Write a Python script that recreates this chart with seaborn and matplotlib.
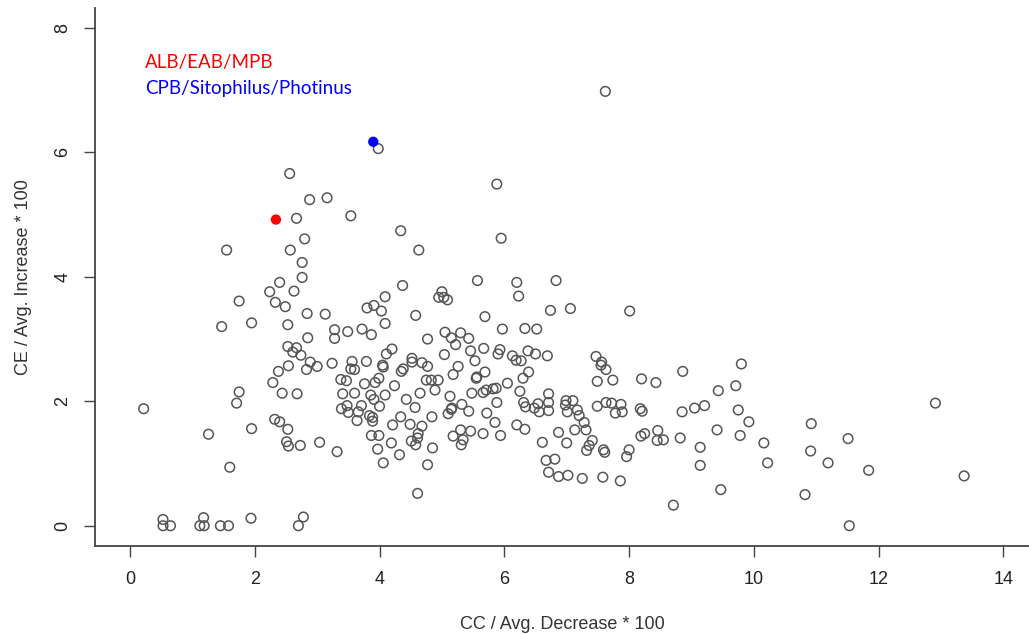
import matplotlib
matplotlib.use('Agg')
import matplotlib.pyplot as plt
import seaborn as sns
import pandas as pd

# CC / Avg. Decrease * 100 (x) and CE / Avg. Increase * 100 (y)
# left cluster, upper part
cc_left_top = [2.56, 2.88, 3.16, 2.67, 2.80, 1.55, 2.57, 2.76, 2.76, 2.40, 2.24, 2.63,
               1.75, 2.33, 2.49, 2.84, 3.13, 1.47, 1.95, 2.53, 3.28, 2.85, 3.28]
ce_left_top = [5.66, 5.24, 5.27, 4.94, 4.61, 4.43, 4.43, 4.23, 3.99, 3.91, 3.76, 3.77,
               3.61, 3.59, 3.52, 3.41, 3.40, 3.20, 3.26, 3.23, 3.15, 3.02, 3.01]

# left cluster, lower part
cc_left_low = [2.53, 2.67, 2.61, 2.74, 2.89, 3.00, 2.83, 3.24, 2.54, 2.38, 2.29, 2.44, 2.68,
               1.75, 1.71, 0.22, 2.32, 2.40, 2.53, 1.95, 1.26, 2.51, 2.54, 2.73, 3.04, 3.32,
               1.60, 0.53, 0.53, 0.65, 1.18, 1.12, 1.19, 1.45, 1.58, 1.94, 2.78, 2.70]
ce_left_low = [2.88, 2.86, 2.79, 2.74, 2.63, 2.56, 2.51, 2.61, 2.57, 2.48, 2.30, 2.13, 2.12,
               2.15, 1.97, 1.88, 1.71, 1.67, 1.55, 1.56, 1.47, 1.35, 1.28, 1.29, 1.34, 1.19,
               0.94, 0.10, 0.00, 0.00, 0.13, 0.00, 0.00, 0.00, 0.00, 0.12, 0.14, 0.00]

# middle, upper part
cc_mid_top = [3.98, 5.88, 3.54, 4.34, 5.95, 4.63, 5.57, 6.20, 6.83, 4.37, 6.23, 5.00,
              4.95, 5.03, 5.09, 4.09, 3.80, 3.91, 4.03, 4.09, 4.58, 5.69, 6.74, 7.06,
              3.49, 3.72, 3.87, 5.05, 5.30, 5.97, 6.33, 6.52]
ce_mid_top = [6.06, 5.49, 4.98, 4.74, 4.62, 4.43, 3.94, 3.91, 3.94, 3.86, 3.69, 3.76,
              3.67, 3.67, 3.63, 3.68, 3.50, 3.54, 3.45, 3.25, 3.38, 3.36, 3.46, 3.49,
              3.12, 3.16, 3.07, 3.11, 3.10, 3.16, 3.17, 3.16]

# middle, dense part
cc_mid_a = [4.77, 5.15, 5.43, 5.22, 4.20, 4.11, 3.56, 3.54, 3.60, 3.79, 4.05, 4.06,
            4.52, 4.52, 4.68, 4.77, 4.35, 4.38, 5.04, 5.46, 5.67, 5.53, 5.93, 5.90,
            6.13, 6.19, 6.27, 6.38, 6.50, 6.69, 5.26, 5.18, 5.69, 5.55, 5.56, 6.39,
            6.30, 3.38, 3.47, 3.76, 3.93, 3.99, 4.24, 4.75, 4.83, 4.94, 4.89, 4.65,
            4.43, 4.57, 3.41, 3.60, 3.86, 4.09, 3.91, 3.48, 3.39, 3.50, 3.71, 3.66]
ce_mid_a = [3.00, 3.02, 3.01, 2.91, 2.84, 2.76, 2.64, 2.52, 2.51, 2.64, 2.58, 2.55,
            2.69, 2.63, 2.62, 2.56, 2.48, 2.52, 2.75, 2.81, 2.85, 2.65, 2.83, 2.76,
            2.73, 2.66, 2.65, 2.81, 2.76, 2.73, 2.56, 2.43, 2.47, 2.37, 2.39, 2.47,
            2.37, 2.35, 2.33, 2.28, 2.30, 2.37, 2.25, 2.34, 2.34, 2.34, 2.18, 2.13,
            2.03, 1.90, 2.12, 2.13, 2.10, 2.10, 2.03, 1.93, 1.88, 1.82, 1.93, 1.83]

cc_mid_b = [4.00, 3.64, 3.84, 3.89, 3.89, 4.34, 4.21, 4.49, 4.68, 4.84, 5.13, 5.48,
            5.32, 5.43, 5.16, 5.15, 5.10, 5.66, 5.71, 5.82, 5.87, 6.05, 6.25, 5.88,
            5.72, 5.85, 6.31, 6.34, 6.48, 6.54, 6.56, 6.71, 6.71, 6.71, 6.20, 6.33,
            6.61, 6.87, 6.67, 6.81, 6.71, 6.87, 7.02, 5.30, 5.46, 5.18, 5.34, 5.31,
            5.66, 5.94, 3.87, 3.99, 4.19, 3.97, 4.32, 4.06, 4.51, 4.61, 4.62, 4.58,
            4.85, 4.77, 4.61]
ce_mid_b = [1.92, 1.69, 1.77, 1.74, 1.68, 1.75, 1.62, 1.63, 1.60, 1.75, 2.08, 2.13,
            1.95, 1.84, 1.89, 1.87, 1.80, 2.14, 2.18, 2.20, 2.21, 2.29, 2.16, 1.98,
            1.81, 1.66, 1.98, 1.91, 1.89, 1.96, 1.83, 2.12, 1.98, 1.85, 1.62, 1.55,
            1.34, 1.50, 1.05, 1.07, 0.86, 0.79, 0.81, 1.54, 1.52, 1.44, 1.38, 1.30,
            1.48, 1.45, 1.45, 1.45, 1.33, 1.23, 1.14, 1.01, 1.36, 1.41, 1.48, 1.30,
            1.25, 0.98, 0.52]

# right part
cc_right = [7.62, 8.01, 7.47, 7.56, 7.55, 7.63, 7.49, 7.74, 8.20, 8.43, 8.86, 9.80,
            9.71, 9.43, 6.99, 7.10, 6.98, 7.01, 7.17, 7.20, 7.28, 7.31, 7.13, 7.00,
            7.41, 7.36, 7.32, 7.59, 7.61, 8.00, 7.96, 7.49, 7.63, 7.72, 7.87, 7.89,
            7.78, 8.18, 8.21, 8.19, 8.25, 8.46, 8.45, 8.55, 8.82, 8.85, 9.05, 9.21,
            9.41, 9.75, 9.92, 9.78, 10.16, 9.14, 9.14, 10.22, 9.47, 8.71, 7.25, 7.58,
            7.86, 10.82, 12.91, 10.92, 11.51, 10.91, 11.19, 11.84, 13.37, 11.53]
ce_right = [6.98, 3.45, 2.72, 2.63, 2.58, 2.51, 2.32, 2.34, 2.36, 2.30, 2.48, 2.60,
            2.25, 2.17, 2.01, 2.01, 1.94, 1.83, 1.86, 1.77, 1.66, 1.54, 1.54, 1.33,
            1.37, 1.29, 1.21, 1.22, 1.18, 1.22, 1.11, 1.92, 1.98, 1.97, 1.95, 1.83,
            1.81, 1.88, 1.84, 1.44, 1.48, 1.53, 1.37, 1.38, 1.41, 1.83, 1.89, 1.93,
            1.54, 1.86, 1.67, 1.45, 1.33, 1.26, 0.97, 1.01, 0.58, 0.33, 0.76, 0.78,
            0.72, 0.50, 1.97, 1.64, 1.40, 1.20, 1.01, 0.89, 0.80, 0.00]

# highlighted species groups
hl_labels = ['ALB/EAB/MPB', 'CPB/Sitophilus/Photinus']
hl_cc = [2.34, 3.90]
hl_ce = [4.92, 6.17]
hl_colors = ['#ff0000', '#0000ff']

x_ticks = [0, 2, 4, 6, 8, 10, 12, 14]
y_ticks = [0, 2, 4, 6, 8]

cc_all = cc_left_top + cc_left_low + cc_mid_top + cc_mid_a + cc_mid_b + cc_right
ce_all = ce_left_top + ce_left_low + ce_mid_top + ce_mid_a + ce_mid_b + ce_right
assert len(cc_all) == len(ce_all)
df = pd.DataFrame({'cc': cc_all, 'ce': ce_all})

sns.set_style('white')
plt.rcParams['font.family'] = ['Liberation Sans', 'DejaVu Sans']

fig = plt.figure(figsize=(10.29, 6.34), dpi=100)
ax = fig.add_axes([95 / 1029, 88 / 634, 934 / 1029, 538 / 634])

sns.scatterplot(data=df, x='cc', y='ce', ax=ax, marker='o', s=48,
                facecolor='none', edgecolor='#555555', linewidth=1.1, zorder=3)

hl_df = pd.DataFrame({'cc': hl_cc, 'ce': hl_ce, 'grp': hl_labels})
sns.scatterplot(data=hl_df, x='cc', y='ce', hue='grp', palette=hl_colors, ax=ax,
                s=55, linewidth=0, legend=False, zorder=4)

ax.set_xlim(-0.56, 14.41)
ax.set_ylim(-0.326, 8.32)
ax.set_xticks(x_ticks)
ax.set_yticks(y_ticks)
ax.set_xticklabels([str(t) for t in x_ticks], fontsize=13, color='#222222')
ax.set_yticklabels([str(t) for t in y_ticks], fontsize=13, color='#222222',
                   rotation=90, va='center')
ax.tick_params(axis='both', direction='out', length=8, width=1.0, color='#444444',
               bottom=True, left=True)
ax.tick_params(axis='x', pad=10)
ax.tick_params(axis='y', pad=9)

for side in ['top', 'right']:
    ax.spines[side].set_visible(False)
for side in ['left', 'bottom']:
    ax.spines[side].set_color('#444444')
    ax.spines[side].set_linewidth(1.3)

ax.set_xlabel('CC / Avg. Decrease * 100', fontsize=13, color='#333333', labelpad=20)
ax.set_ylabel('CE / Avg. Increase * 100', fontsize=13, color='#333333', labelpad=16)

# group legend as coloured text
ax.text(0.24, 7.45, hl_labels[0], color=hl_colors[0], fontsize=13.5,
        family=['Lato', 'DejaVu Sans'], va='center', ha='left')
ax.text(0.24, 7.03, hl_labels[1], color=hl_colors[1], fontsize=13.5,
        family=['Lato', 'DejaVu Sans'], va='center', ha='left')

plt.savefig('out.png', dpi=100)
plt.close()
